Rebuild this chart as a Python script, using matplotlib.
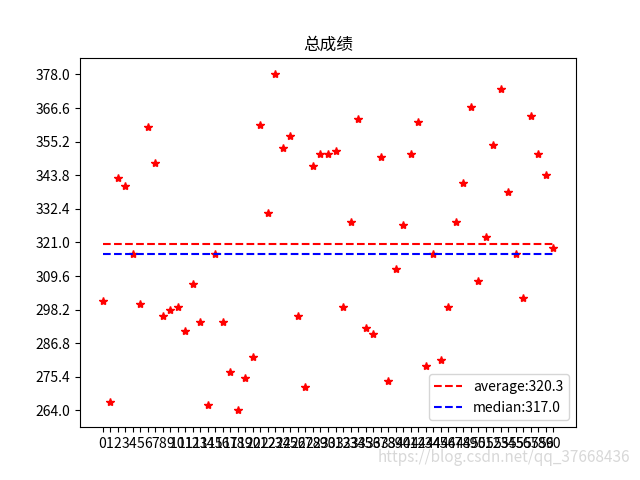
import numpy as np
import matplotlib
matplotlib.use('Agg')
import matplotlib.pyplot as plt

plt.rcParams['font.family'] = ['Noto Sans CJK SC', 'DejaVu Sans']
plt.rcParams['axes.unicode_minus'] = False

# total score for each student
scores = [301, 267, 343, 340, 317, 300, 360, 348, 296, 298,
          299, 291, 307, 294, 266, 317, 294, 277, 264, 275,
          282, 361, 331, 378, 353, 357, 296, 272, 347, 351,
          351, 352, 299, 328, 363, 292, 290, 350, 274, 312,
          327, 351, 362, 279, 317, 281, 299, 328, 341, 367,
          308, 323, 354, 373, 338, 317, 302, 364, 351, 344,
          319]
idx = list(range(len(scores)))
title = '总成绩'

avg = np.mean(scores)
med = np.median(scores)

fig = plt.figure(figsize=(6.4, 4.8), dpi=100)
ax = plt.gca()
ax.plot(idx, scores, 'r*', linestyle='none')
ax.hlines(avg, idx[0], idx[-1], colors='red', linestyles='--', label='average:%.1f' % avg)
ax.hlines(med, idx[0], idx[-1], colors='blue', linestyles='--', label='median:%.1f' % med)
ax.set_xticks(idx)
ax.set_xticklabels([str(i) for i in idx])
ax.set_yticks(np.linspace(min(scores), max(scores), 11))
ax.set_title(title)
ax.legend(loc='lower right')

fig.text(0.985, 0.03, 'https://blog.csdn.net/qq_37668436', ha='right', va='bottom',
         color='#d8d8d8', fontsize=11)

plt.savefig('out.png')
